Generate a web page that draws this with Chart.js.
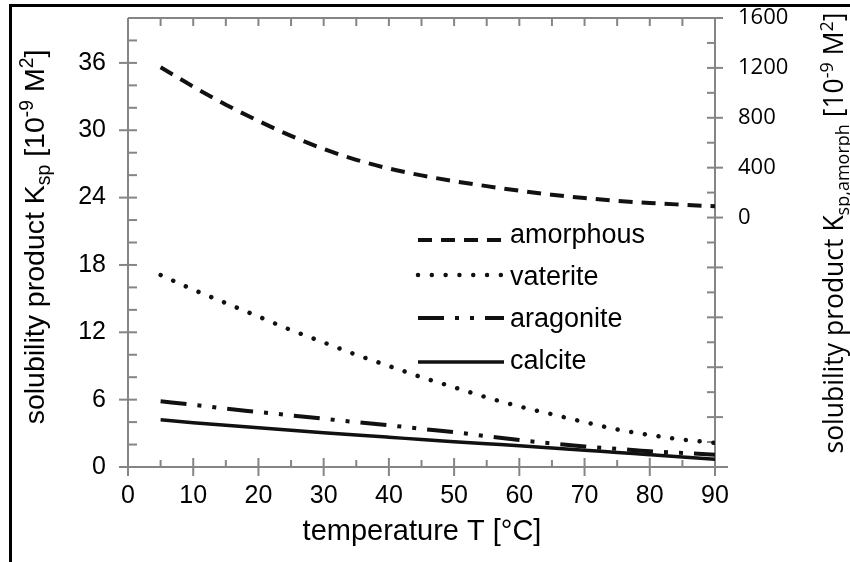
<!DOCTYPE html>
<html><head><meta charset="utf-8">
<script src="https://cdn.jsdelivr.net/npm/chart.js@4.4.1/dist/chart.umd.min.js"></script>
<style>html,body{margin:0;padding:0;background:#fff;}canvas{display:block;}</style>
</head><body>
<canvas id="c" width="850" height="562"></canvas>
<script>
// ---- data ----
const temperatures = [5,10,15,20,25,30,35,40,45,50,55,60,65,70,75,80,85,90];
const amorphous = [1205,1050,905,775,655,550,463,393,338,292,252,215,183,156,134,117,103,90]; // right axis
const vaterite  = [17.1,15.8,14.6,13.4,12.2,11.1,10.0,9.0,8.0,7.1,6.2,5.4,4.7,4.0,3.35,2.85,2.45,2.15];
const aragonite = [5.85,5.55,5.2,4.9,4.6,4.3,4.0,3.72,3.4,3.1,2.75,2.4,2.1,1.83,1.62,1.4,1.25,1.1];
const calcite   = [4.2,3.95,3.72,3.5,3.27,3.05,2.85,2.65,2.45,2.25,2.07,1.9,1.7,1.5,1.3,1.1,0.9,0.7];
const seriesNames = ['amorphous','vaterite','aragonite','calcite'];
const xTickValues = [0,10,20,30,40,50,60,70,80,90];
const leftTickValues = [0,6,12,18,24,30,36];
const rightTickValues = [0,400,800,1200,1600];

const ARIAL = '"Liberation Sans", Arial, sans-serif';
const CALIBRI = '"Open Sans", sans-serif';
const AXIS = '#858585';

const pts = arr => temperatures.map((t,i)=>({x:t,y:arr[i]}));

function drawRich(ctx, segs, family, size, cx, cy, rotate){
  let total = 0;
  segs.forEach(s=>{ctx.font = (size*(s.k||1))+'px '+family; s.w = ctx.measureText(s.t).width; total += s.w;});
  ctx.save();
  ctx.translate(cx, cy);
  if (rotate) ctx.rotate(-Math.PI/2);
  ctx.fillStyle = '#000';
  ctx.textBaseline = 'alphabetic';
  ctx.textAlign = 'left';
  let x = -total/2;
  segs.forEach(s=>{ctx.font = (size*(s.k||1))+'px '+family; ctx.fillText(s.t, x, (s.dy||0)*size); x += s.w;});
  ctx.restore();
}

const noPad = s => { s.paddingTop = 0; s.paddingBottom = 0; s.paddingLeft = 0; s.paddingRight = 0; };

const decor = {
  id: 'decor',
  beforeDatasetsDraw(chart){
    const {ctx, chartArea:a, scales} = chart;
    const xs = scales.x, yl = scales.y, yr = scales.y2;
    ctx.save();
    ctx.strokeStyle = AXIS; ctx.lineWidth = 2; ctx.lineCap = 'butt';
    const line = (x1,y1,x2,y2)=>{ctx.beginPath();ctx.moveTo(x1,y1);ctx.lineTo(x2,y2);ctx.stroke();};
    line(a.left, a.top, a.left, a.bottom);
    line(a.right, a.top, a.right, a.bottom);
    line(a.left, a.bottom, a.right + 13, a.bottom);
    line(a.left, a.top, a.right, a.top);
    for (let v = 0; v <= 40; v += 2){
      const y = yl.getPixelForValue(v);
      if (v % 6 === 0) line(a.left - 9, y, a.left + 9, y); else line(a.left, y, a.left + 9, y);
    }
    for (let v = -2000; v <= 1600; v += 200){
      const y = yr.getPixelForValue(v);
      if (v % 400 === 0) line(a.right - 8, y, a.right + 8, y); else line(a.right - 8, y, a.right, y);
    }
    for (let t = 0; t <= 90; t += 5){
      const x = xs.getPixelForValue(t);
      if (t % 10 === 0) line(x, a.bottom - 9, x, a.bottom + 9); else line(x, a.bottom - 7, x, a.bottom);
      if (t > 0) line(x, a.top, x, a.top + 8);
    }
    ctx.restore();
  },
  afterDraw(chart){
    const ctx = chart.ctx;
    ctx.save();
    ctx.fillStyle = '#000';
    ctx.fillRect(9, 4, 841, 3);
    ctx.fillRect(9, 4, 3, 558);
    drawRich(ctx, [{t:'temperature T [°C]'}], ARIAL, 29, 422, 540, false);
    drawRich(ctx, [
      {t:'solubility product K'}, {t:'sp', k:0.68, dy:0.22}, {t:' [10'}, {t:'-9', k:0.68, dy:-0.38},
      {t:' M'}, {t:'2', k:0.68, dy:-0.38}, {t:']'}], ARIAL, 28.5, 44, 237, true);
    drawRich(ctx, [
      {t:'solubility product K'}, {t:'sp,amorph', k:0.68, dy:0.22}, {t:' [10'}, {t:'-9', k:0.68, dy:-0.38},
      {t:' M'}, {t:'2', k:0.68, dy:-0.38}, {t:']'}], CALIBRI, 26.5, 843, 233, true);
    const rows = [{ly:240, ty:243},{ly:275, ty:285},{ly:318, ty:327},{ly:362, ty:369}];
    chart.data.datasets.forEach((ds, i)=>{
      const r = rows[i];
      ctx.save();
      ctx.strokeStyle = ds.borderColor;
      ctx.lineWidth = ds.borderWidth;
      ctx.lineCap = ds.borderCapStyle || 'butt';
      ctx.setLineDash(ds.borderDash || []);
      ctx.beginPath(); ctx.moveTo(418, r.ly); ctx.lineTo(504, r.ly); ctx.stroke();
      ctx.restore();
      ctx.fillStyle = '#000';
      ctx.font = '27px ' + ARIAL;
      ctx.textBaseline = 'alphabetic'; ctx.textAlign = 'left';
      ctx.fillText(ds.label, 510, r.ty);
    });
    ctx.restore();
  }
};

new Chart(document.getElementById('c'), {
  type: 'line',
  data: {
    datasets: [
      {label: seriesNames[0], data: pts(amorphous), yAxisID:'y2', borderColor:'#111', borderWidth:4, borderDash:[14,9], pointRadius:0, cubicInterpolationMode:'monotone', fill:false},
      {label: seriesNames[1], data: pts(vaterite), yAxisID:'y', borderColor:'#111', borderWidth:4.5, borderDash:[0.01,13.8], borderCapStyle:'round', pointRadius:0, cubicInterpolationMode:'monotone', fill:false},
      {label: seriesNames[2], data: pts(aragonite), yAxisID:'y', borderColor:'#111', borderWidth:4, borderDash:[26,11,4,11,4,11], pointRadius:0, cubicInterpolationMode:'monotone', fill:false},
      {label: seriesNames[3], data: pts(calcite), yAxisID:'y', borderColor:'#111', borderWidth:3.5, pointRadius:0, cubicInterpolationMode:'monotone', fill:false}
    ]
  },
  options: {
    responsive: false,
    devicePixelRatio: 1,
    animation: false,
    layout: {padding: {top: 18, left: 0, right: 0, bottom: 0}},
    plugins: {legend: {display:false}, tooltip: {enabled:false}},
    scales: {
      x: {
        type: 'linear', min: 0, max: 90,
        afterBuildTicks: s => { s.ticks = xTickValues.map(v=>({value:v})); },
        ticks: {font:{family:ARIAL, size:25}, color:'#000', padding:14, maxRotation:0, autoSkip:false, callback: v => String(v)},
        grid: {display:false, drawTicks:false}, border: {display:false},
        afterFit: s => { s.height = 95; noPad(s); }
      },
      y: {
        position: 'left', min: 0, max: 40,
        afterBuildTicks: s => { s.ticks = leftTickValues.map(v=>({value:v})); },
        ticks: {font:{family:ARIAL, size:25}, color:'#000', padding:22, callback: v => String(v)},
        grid: {display:false, drawTicks:false}, border: {display:false},
        afterFit: s => { s.width = 128; noPad(s); }
      },
      y2: {
        position: 'right', min: -2000, max: 1600,
        afterBuildTicks: s => { s.ticks = rightTickValues.map(v=>({value:v})); },
        ticks: {font:{family:CALIBRI, size:22}, color:'#000', padding:23, callback: v => String(v)},
        grid: {display:false, drawTicks:false}, border: {display:false},
        afterFit: s => { s.width = 135; noPad(s); }
      }
    }
  },
  plugins: [decor]
});
</script>
</body></html>
